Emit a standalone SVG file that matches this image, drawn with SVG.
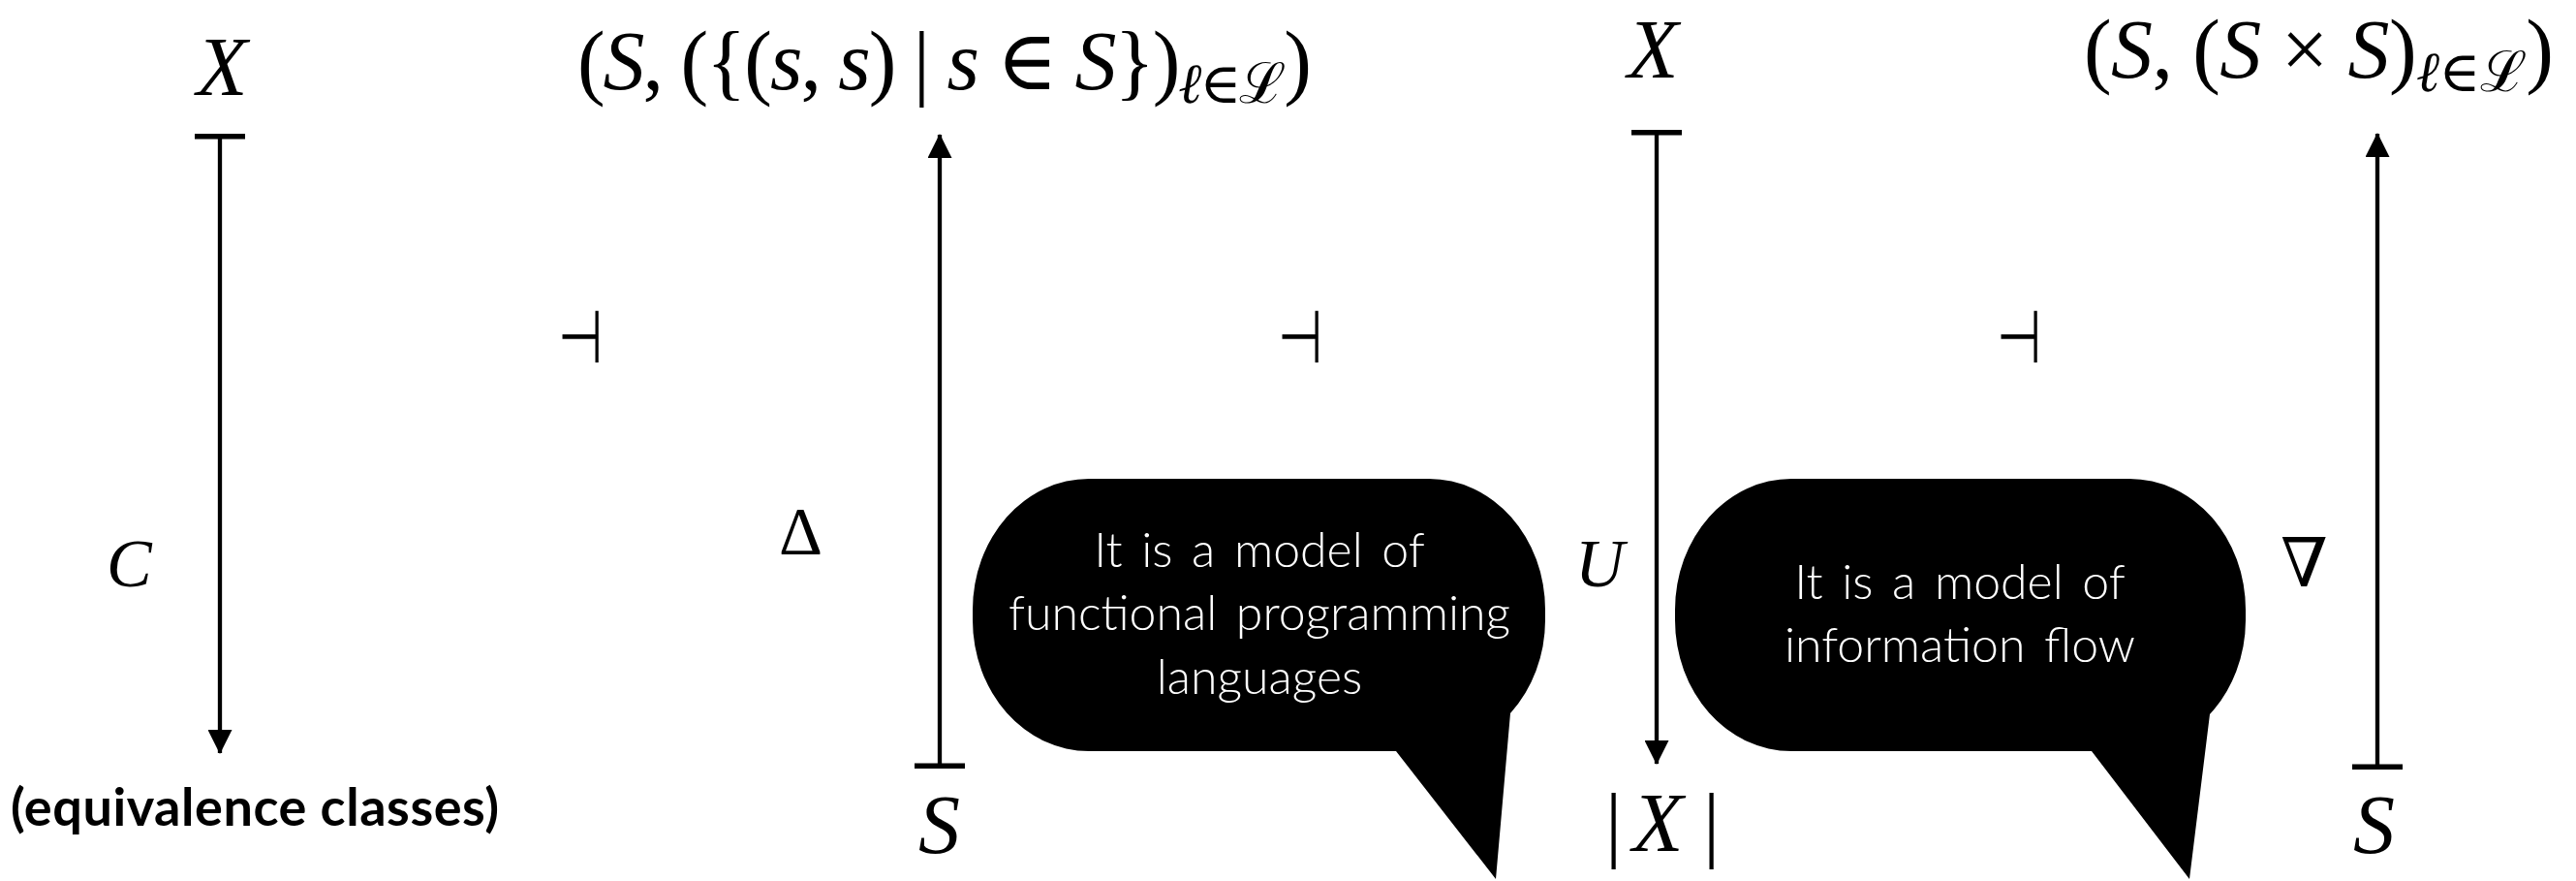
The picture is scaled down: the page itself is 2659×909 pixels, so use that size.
<svg xmlns="http://www.w3.org/2000/svg" width="2659" height="909" viewBox="0 0 2659 909">
<style>
.m{font-family:"Liberation Serif","DejaVu Serif",serif;font-size:86px;fill:#000}
.i{font-style:italic}
.sub{font-size:58px}
.lbl{font-family:"Liberation Serif","DejaVu Serif",serif;font-size:70px;fill:#000}
.adj{font-family:"DejaVu Sans",sans-serif;font-size:76px;fill:#000}
.eq{font-family:Lato,"Open Sans",sans-serif;font-weight:bold;font-size:54px;fill:#000}
.bub{fill:#000}
.bt{font-family:Lato,"Open Sans",sans-serif;font-weight:300;font-size:50px;fill:#fff;text-anchor:middle;word-spacing:6px}
.conn line{stroke:#000;stroke-width:4.3;fill:none}
</style>
<defs>
<marker id="ah" markerUnits="userSpaceOnUse" viewBox="0 0 25 25" refX="24" refY="12.5" markerWidth="25" markerHeight="25" orient="auto">
<path d="M0,0 L25,12.5 L0,25 Z" fill="#000"/>
</marker>
<marker id="tee" markerUnits="userSpaceOnUse" viewBox="0 0 6 52" refX="3" refY="26" markerWidth="6" markerHeight="52" orient="auto">
<rect x="0" y="0" width="5.5" height="52" fill="#000"/>
</marker>
</defs>
<rect width="2659" height="909" fill="#fff"/>

<g id="node-X1"><text class="m i" x="203" y="98">X</text></g>
<g id="node-eq"><text class="eq" x="11" y="852" textLength="504" lengthAdjust="spacing">(equivalence classes)</text></g>
<g id="node-diag"><text class="m" x="596" y="92" textLength="758" lengthAdjust="spacing">(<tspan class="i">S</tspan>, ({(<tspan class="i">s</tspan>, <tspan class="i">s</tspan>) | <tspan class="i">s</tspan> ∈ <tspan class="i">S</tspan>})<tspan class="sub" dy="14"><tspan class="i">ℓ</tspan>∈ℒ</tspan><tspan dy="-14">)</tspan></text></g>
<g id="node-S1"><text class="m i" x="948" y="880">S</text></g>
<g id="node-X2"><text class="m i" x="1680" y="80">X</text></g>
<g id="node-absX"><text class="m" y="878"><tspan x="1657">|</tspan><tspan class="i" x="1685">X</tspan><tspan x="1758">|</tspan></text></g>
<g id="node-full"><text class="m" x="2151" y="80" textLength="485" lengthAdjust="spacing">(<tspan class="i">S</tspan>, (<tspan class="i">S</tspan> × <tspan class="i">S</tspan>)<tspan class="sub" dy="14"><tspan class="i">ℓ</tspan>∈ℒ</tspan><tspan dy="-14">)</tspan></text></g>
<g id="node-S2"><text class="m i" x="2429" y="880">S</text></g>

<g class="conn" id="connectors">
<line x1="227" y1="141" x2="227" y2="777" marker-start="url(#tee)" marker-end="url(#ah)"/>
<line x1="970" y1="790" x2="970" y2="139" marker-start="url(#tee)" marker-end="url(#ah)"/>
<line x1="1710" y1="137" x2="1710" y2="788" marker-start="url(#tee)" marker-end="url(#ah)"/>
<line x1="2454" y1="791" x2="2454" y2="138" marker-start="url(#tee)" marker-end="url(#ah)"/>
</g>

<g id="labels">
<text class="lbl i" x="110" y="605">C</text>
<text class="lbl" x="804" y="572">Δ</text>
<text class="lbl i" x="1626" y="605">U</text>
<text class="lbl" x="2354" y="605">∇</text>
</g>

<g id="adjunctions">
<text class="adj" transform="translate(576,374) scale(0.7,1)">⊣</text>
<text class="adj" transform="translate(1319,374) scale(0.7,1)">⊣</text>
<text class="adj" transform="translate(2061,374) scale(0.7,1)">⊣</text>
</g>

<g id="bubble1">
<path class="bub" d="M1124,494 H1475 A120,135 0 0 1 1595,629 V640 A120,135 0 0 1 1559,736 L1544,907 L1441,775 H1124 A120,135 0 0 1 1004,640 V629 A120,135 0 0 1 1124,494 Z"/>
<text class="bt" x="1300" y="585">It is a model of</text>
<text class="bt" x="1300" y="650">functional programming</text>
<text class="bt" x="1300" y="716">languages</text>
</g>

<g id="bubble2">
<path class="bub" d="M1849,494 H2198 A120,135 0 0 1 2318,629 V640 A120,135 0 0 1 2281,737 L2260,907 L2159,775 H1849 A120,135 0 0 1 1729,640 V629 A120,135 0 0 1 1849,494 Z"/>
<text class="bt" x="2023" y="618">It is a model of</text>
<text class="bt" x="2023" y="683">information flow</text>
</g>
</svg>
